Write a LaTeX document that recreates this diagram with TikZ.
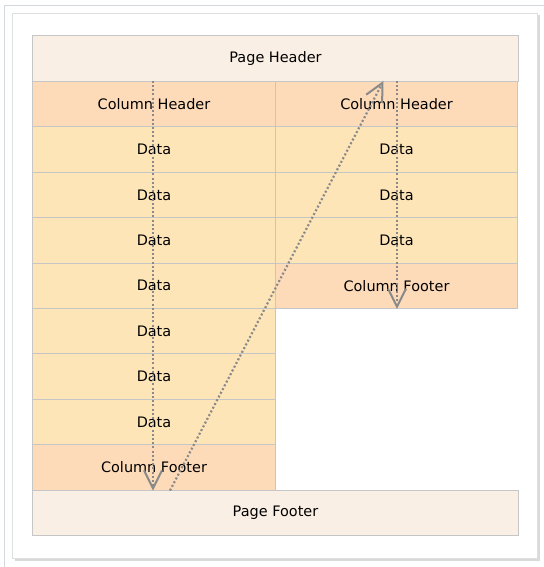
\documentclass[tikz,border=0pt]{standalone}
\usepackage{fontspec}
\setmainfont{DejaVu Sans}
\usetikzlibrary{arrows.meta,shadows}

\definecolor{frameline}{HTML}{D3D8DF}
\definecolor{cellline}{HTML}{C6C6C6}
\definecolor{pagefill}{HTML}{FAEFE4}
\definecolor{colfill}{HTML}{FDDBB9}
\definecolor{datafill}{HTML}{FEE5B7}
\definecolor{flowgray}{HTML}{8A8A8A}

\tikzset{
  cell/.style={draw=cellline, line width=1bp, inner sep=0pt,
    minimum width=242bp, minimum height=45.4bp, font=\fontsize{14.5}{16}\selectfont},
  pagecell/.style={cell, fill=pagefill, minimum width=485bp},
  colcell/.style={cell, fill=colfill},
  datacell/.style={cell, fill=datafill},
  flow/.style={flowgray, line width=2.2bp, dash pattern=on 2bp off 2.2bp,
    -{Straight Barb[length=18bp,width=18bp,line width=2bp]}}
}

\begin{document}
\begin{tikzpicture}[x=1bp,y=-1bp]
  \useasboundingbox (0,0) rectangle (544,567);
  \draw[frameline] (4,567) |- (544,5);
  \fill[white, draw=gray!25, drop shadow={shadow xshift=2.5bp, shadow yshift=-2.5bp, opacity=0.3}]
    (12,13) rectangle (537,558);

  % page band
  \node[pagecell] (ph) at (275.5,58.7) {Page Header};
  \node[pagecell] (pf) at (275.5,512.7) {Page Footer};

  % first column
  \node[colcell] (lch) at (154,104.1) {Column Header};
  \node[datacell] (ld1) at (154,149.5) {Data};
  \node[datacell] (ld2) at (154,194.9) {Data};
  \node[datacell] (ld3) at (154,240.3) {Data};
  \node[datacell] (ld4) at (154,285.7) {Data};
  \node[datacell] (ld5) at (154,331.1) {Data};
  \node[datacell] (ld6) at (154,376.5) {Data};
  \node[datacell] (ld7) at (154,421.9) {Data};
  \node[colcell] (lcf) at (154,467.3) {Column Footer};

  % second column
  \node[colcell] (rch) at (396.5,104.1) {Column Header};
  \node[datacell] (rd1) at (396.5,149.5) {Data};
  \node[datacell] (rd2) at (396.5,194.9) {Data};
  \node[datacell] (rd3) at (396.5,240.3) {Data};
  \node[colcell] (rcf) at (396.5,285.7) {Column Footer};

  % print order
  \draw[flow] ([xshift=-1bp]lch.north) -- ([xshift=-1bp]lcf.south);
  \draw[flow] ([xshift=16bp]lcf.south) -- ([xshift=-13bp]rch.north);
  \draw[flow] ([xshift=0.5bp]rch.north) -- ([xshift=0.5bp]rcf.south);
\end{tikzpicture}
\end{document}
